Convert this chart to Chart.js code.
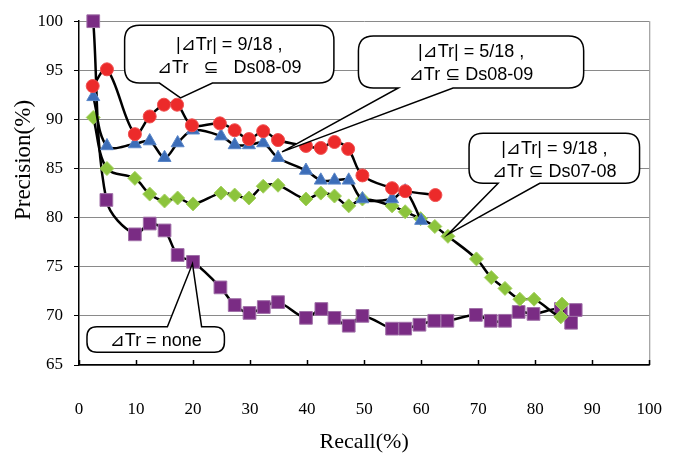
<!DOCTYPE html>
<html>
<head>
<meta charset="utf-8">
<script src="https://cdn.jsdelivr.net/npm/chart.js@4"></script>
<style>
  html, body { margin: 0; padding: 0; background: #fff; }
  #wrap { width: 688px; height: 461px; }
</style>
</head>
<body>
<div id="wrap"><canvas id="pr-chart"></canvas></div>
<script>
// recall (%) / precision (%), one pair of arrays per curve

// |⊿Tr| = 9/18 , ⊿Tr ⊆ Ds08-09  (red circles)
const recallRed = [2.4, 4.9, 9.8, 12.4, 14.9, 17.2, 19.8, 24.7, 27.3, 29.8, 32.3, 34.9, 39.8, 42.4, 44.8, 47.2, 49.7, 54.9, 57.2, 62.5];
const precRed = [93.4, 95.1, 88.5, 90.3, 91.5, 91.5, 89.4, 89.6, 88.9, 88.0, 88.8, 87.9, 87.3, 87.1, 87.7, 87.0, 84.3, 83.0, 82.7, 82.3];

// |⊿Tr| = 5/18 , ⊿Tr ⊆ Ds08-09  (blue triangles)
const recallBlue = [2.5, 4.9, 9.8, 12.4, 15.0, 17.3, 20.0, 24.9, 27.3, 29.8, 32.3, 34.9, 39.8, 42.4, 44.8, 47.3, 49.7, 54.9, 57.2, 60.0];
const precBlue = [92.3, 87.3, 87.5, 87.8, 86.1, 87.6, 88.9, 88.3, 87.4, 87.4, 87.6, 86.1, 84.8, 83.8, 83.8, 83.8, 81.9, 81.9, 82.7, 79.7];

// |⊿Tr| = 9/18 , ⊿Tr ⊆ Ds07-08  (green diamonds)
const recallGreen = [2.5, 4.9, 9.8, 12.4, 15.0, 17.3, 20.0, 24.9, 27.3, 29.8, 32.3, 34.9, 39.8, 42.4, 44.8, 47.3, 49.7, 54.9, 57.2, 59.9, 62.4, 64.7, 69.7, 72.3, 74.7, 77.3, 79.8, 84.5, 84.7];
const precGreen = [90.2, 85.0, 84.0, 82.4, 81.7, 82.0, 81.4, 82.5, 82.3, 82.0, 83.2, 83.3, 81.9, 82.5, 82.2, 81.2, 81.9, 81.2, 80.6, 79.9, 79.1, 78.1, 75.8, 73.9, 72.8, 71.7, 71.7, 69.9, 71.2];

// ⊿Tr = none  (purple squares)
const recallPurple = [2.5, 4.8, 9.8, 12.4, 15.0, 17.3, 20.0, 24.8, 27.3, 29.9, 32.4, 34.9, 39.8, 42.5, 44.8, 47.3, 49.7, 54.9, 57.2, 59.7, 62.3, 64.6, 69.6, 72.2, 74.7, 77.1, 79.7, 84.5, 86.3, 87.1];
const precPurple = [100, 81.8, 78.3, 79.4, 78.7, 76.2, 75.5, 72.9, 71.1, 70.3, 70.9, 71.4, 69.8, 70.7, 69.8, 69.0, 70.0, 68.7, 68.7, 69.1, 69.5, 69.5, 70.1, 69.5, 69.5, 70.4, 70.2, 70.7, 69.3, 70.6];

const xTitle = "Recall(%)";
const yTitle = "Precision(%)";

// callout texts
const noteRed = ["|⊿Tr| = 9/18 ,", "⊿Tr   ⊆   Ds08-09"];
const noteBlue = ["|⊿Tr| = 5/18 ,", "⊿Tr ⊆ Ds08-09"];
const noteGreen = ["|⊿Tr| = 9/18 ,", "⊿Tr ⊆ Ds07-08"];
const notePurple = ["⊿Tr = none"];

// callout placement in axis units: box [x0, x1, yTop, yBottom], wedge base [x0, x1] on side, tip [x, y]
const callouts = [
  { lines: noteRed, box: [8.0, 44.7, 99.6, 93.7], base: [14.1, 23.4], side: "bottom", tip: [17.8, 92.2], r: 15 },
  { lines: noteBlue, box: [49.0, 88.5, 98.5, 93.2], base: [56.0, 65.6], side: "bottom", tip: [35.6, 86.7], r: 15 },
  { lines: noteGreen, box: [68.4, 98.3, 88.6, 83.5], base: [73.5, 80.8], side: "bottom", tip: [64.7, 78.3], r: 14 },
  { lines: notePurple, box: [1.4, 25.5, 68.9, 66.3], base: [15.5, 21.5], side: "top", tip: [19.9, 75.3], r: 10 },
];

function pts(xs, ys) {
  return xs.map((v, i) => ({ x: v, y: ys[i] }));
}

const calloutPlugin = {
  id: "callouts",
  beforeDatasetsDraw(chart) {
    const { ctx, chartArea, scales } = chart;
    ctx.save();
    // right frame line
    ctx.strokeStyle = "#8a8a8a";
    ctx.lineWidth = 1;
    ctx.beginPath();
    ctx.moveTo(chartArea.right + 0.5, chartArea.top);
    ctx.lineTo(chartArea.right + 0.5, chartArea.bottom);
    ctx.stroke();
    // x tick marks point inwards
    ctx.strokeStyle = "#000";
    ctx.lineWidth = 1.5;
    scales.x.ticks.forEach((t) => {
      const px = Math.round(scales.x.getPixelForValue(t.value)) + 0.5;
      ctx.beginPath();
      ctx.moveTo(px, chartArea.bottom);
      ctx.lineTo(px, chartArea.bottom - 5);
      ctx.stroke();
    });
    ctx.restore();
  },
  afterDatasetsDraw(chart) {
    const { ctx, scales: { x, y } } = chart;
    callouts.forEach((n) => {
      const L = x.getPixelForValue(n.box[0]);
      const R = x.getPixelForValue(n.box[1]);
      const T = y.getPixelForValue(n.box[2]);
      const B = y.getPixelForValue(n.box[3]);
      const b1 = x.getPixelForValue(n.base[0]);
      const b2 = x.getPixelForValue(n.base[1]);
      const tx = x.getPixelForValue(n.tip[0]);
      const ty = y.getPixelForValue(n.tip[1]);
      const r = n.r;
      ctx.save();
      ctx.beginPath();
      ctx.moveTo(L + r, T);
      if (n.side === "top") {
        ctx.lineTo(b1, T);
        ctx.lineTo(tx, ty);
        ctx.lineTo(b2, T);
      }
      ctx.lineTo(R - r, T);
      ctx.quadraticCurveTo(R, T, R, T + r);
      ctx.lineTo(R, B - r);
      ctx.quadraticCurveTo(R, B, R - r, B);
      if (n.side === "bottom") {
        ctx.lineTo(b2, B);
        ctx.lineTo(tx, ty);
        ctx.lineTo(b1, B);
      }
      ctx.lineTo(L + r, B);
      ctx.quadraticCurveTo(L, B, L, B - r);
      ctx.lineTo(L, T + r);
      ctx.quadraticCurveTo(L, T, L + r, T);
      ctx.closePath();
      ctx.fillStyle = "#fff";
      ctx.fill();
      ctx.lineWidth = 1.5;
      ctx.strokeStyle = "#000";
      ctx.stroke();
      // text
      ctx.fillStyle = "#000";
      ctx.font = '18px "Liberation Sans", Arial, "DejaVu Sans", sans-serif';
      ctx.textAlign = "center";
      ctx.textBaseline = "middle";
      const cx = (L + R) / 2;
      const cy = (T + B) / 2 + 2;
      const gap = 23;
      const y0 = cy - ((n.lines.length - 1) * gap) / 2;
      n.lines.forEach((s, i) => ctx.fillText(s, cx, y0 + i * gap));
      ctx.restore();
    });
  },
  afterDraw(chart) {
    // y axis title sits a bit above the middle of the axis
    const { ctx } = chart;
    ctx.save();
    ctx.translate(24, 160);
    ctx.rotate(-Math.PI / 2);
    ctx.font = '23px "Liberation Serif", "Times New Roman", serif';
    ctx.fillStyle = "#000";
    ctx.textAlign = "center";
    ctx.textBaseline = "middle";
    ctx.fillText(yTitle, 0, 0);
    ctx.restore();
  },
};

const lineBase = {
  showLine: true,
  borderColor: "#000",
  borderWidth: 2.5,
  tension: 0.35,
  clip: false,
  pointBorderWidth: 1,
  pointHoverRadius: 0,
};

const tickFont = { size: 17, family: '"Liberation Serif", "Times New Roman", serif' };

new Chart(document.getElementById("pr-chart"), {
  type: "scatter",
  data: {
    datasets: [
      {
        ...lineBase,
        label: noteRed.join(" "),
        data: pts(recallRed, precRed),
        pointStyle: "circle",
        pointRadius: 6.5,
        pointBackgroundColor: "#ec2a2a",
        pointBorderColor: "#f05050",
      },
      {
        ...lineBase,
        label: noteBlue.join(" "),
        data: pts(recallBlue, precBlue),
        pointStyle: "triangle",
        pointRadius: 7.5,
        pointBackgroundColor: "#3c6db8",
        pointBorderColor: "#5a86c8",
      },
      {
        ...lineBase,
        label: noteGreen.join(" "),
        data: pts(recallGreen, precGreen),
        pointStyle: "rectRot",
        pointRadius: 7,
        pointBackgroundColor: "#8cc43c",
        pointBorderColor: "#a4d060",
      },
      {
        ...lineBase,
        label: notePurple.join(" "),
        data: pts(recallPurple, precPurple),
        pointStyle: "rect",
        pointRadius: 9,
        pointBackgroundColor: "#7a2c84",
        pointBorderColor: "#a070a8",
      },
    ],
  },
  options: {
    responsive: true,
    maintainAspectRatio: false,
    animation: false,
    devicePixelRatio: 1,
    layout: { padding: { top: 9, right: 36, left: 0, bottom: 0 } },
    plugins: {
      legend: { display: false },
      tooltip: { enabled: false },
    },
    scales: {
      x: {
        type: "linear",
        min: 0,
        max: 100,
        afterFit: (s) => { s.height = 96; },
        ticks: { stepSize: 10, padding: 26, color: "#000", font: tickFont, maxRotation: 0, autoSkip: false },
        grid: { display: false },
        border: { display: true, color: "#000", width: 1.5 },
        title: {
          display: true,
          text: xTitle,
          color: "#000",
          font: { size: 22, family: '"Liberation Serif", "Times New Roman", serif' },
          padding: { top: 0, bottom: 6 },
        },
      },
      y: {
        min: 65,
        max: 100,
        afterFit: (s) => { s.width = 79; },
        ticks: { stepSize: 5, padding: 11, color: "#000", font: tickFont },
        grid: { color: "#8a8a8a", lineWidth: 1, tickLength: 5, tickColor: "#000" },
        border: { display: true, color: "#000", width: 1.5 },
      },
    },
  },
  plugins: [calloutPlugin],
});
</script>
</body>
</html>
